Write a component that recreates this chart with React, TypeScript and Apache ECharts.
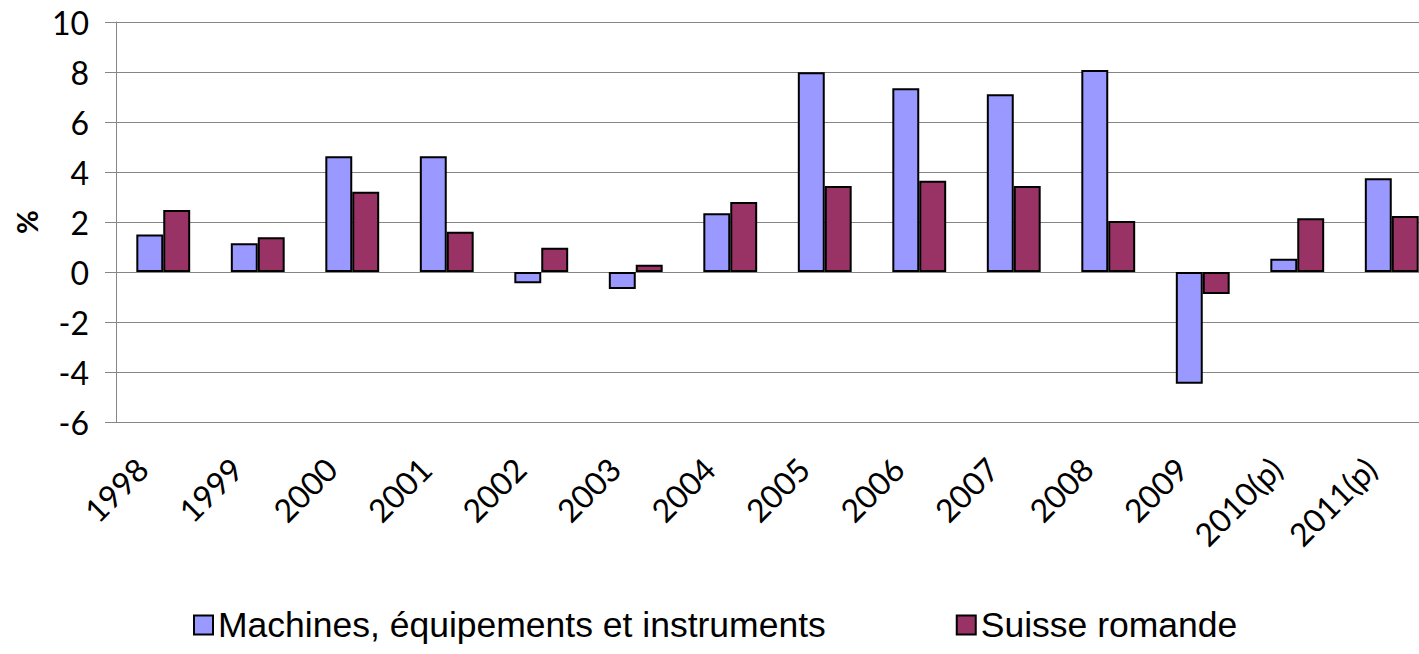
import React, { useEffect, useRef } from "react";
import * as echarts from "echarts";

const categories = ["1998", "1999", "2000", "2001", "2002", "2003", "2004", "2005", "2006", "2007", "2008", "2009", "2010(p)", "2011(p)"];
const machines = [1.5, 1.15, 4.63, 4.63, -0.45, -0.68, 2.35, 7.99, 7.35, 7.11, 8.08, -4.47, 0.53, 3.75];
const suisseRomande = [2.48, 1.39, 3.21, 1.61, 0.97, 0.29, 2.8, 3.44, 3.65, 3.44, 2.04, -0.88, 2.15, 2.24];
const seriesNames = ["Machines, équipements et instruments", "Suisse romande"];

export default function App() {
  const ref = useRef<HTMLDivElement>(null);
  useEffect(() => {
    if (!ref.current) return;
    const chart = echarts.init(ref.current, undefined, { renderer: "svg" });
    const gray = "#868686";
    chart.setOption({
      animation: false,
      backgroundColor: "#ffffff",
      grid: { left: 116, top: 22, bottom: 232, right: 21, containLabel: false, outerBoundsMode: "none" },
      legend: {
        bottom: 6,
        left: 188,
        itemWidth: 19,
        itemHeight: 19,
        itemGap: 130,
        icon: "rect",
        textStyle: { fontFamily: "Liberation Sans", fontSize: 35.5, color: "#000" },
        data: seriesNames,
      },
      xAxis: {
        type: "category",
        data: categories,
        axisLine: { show: false, onZero: false },
        axisTick: { show: false },
        axisLabel: {
          rotate: 45,
          margin: 20,
          interval: 0,
          padding: [0, 30, 0, 0],
          fontFamily: "Lato",
          fontSize: 32,
          color: "#000",
        },
      },
      yAxis: {
        type: "value",
        min: -6,
        max: 10,
        interval: 2,
        name: "%",
        nameLocation: "middle",
        nameRotate: 90,
        nameGap: 74,
        nameTextStyle: { fontFamily: "Lato", fontSize: 29, fontWeight: "bold", color: "#000" },
        axisLine: { show: true, lineStyle: { color: gray, width: 1 } },
        axisTick: { show: true, inside: false, length: 11, lineStyle: { color: gray } },
        splitLine: { show: true, lineStyle: { color: gray, width: 1 } },
        axisLabel: { margin: 27, fontFamily: "Lato", fontSize: 32, color: "#000" },
      },
      series: [
        {
          name: seriesNames[0],
          type: "bar",
          data: machines,
          barGap: "0%",
          barCategoryGap: "43%",
          itemStyle: { color: "#9999FF", borderColor: "#000", borderWidth: 2 },
        },
        {
          name: seriesNames[1],
          type: "bar",
          data: suisseRomande,
          barGap: "0%",
          barCategoryGap: "43%",
          itemStyle: { color: "#993366", borderColor: "#000", borderWidth: 2 },
        },
      ],
    });
    return () => chart.dispose();
  }, []);
  return (
    <div style={{ position: "fixed", left: 0, top: 0, width: 1419, height: 654, overflow: "hidden" }}>
      <div ref={ref} style={{ width: 1460, height: 654 }} />
    </div>
  );
}
